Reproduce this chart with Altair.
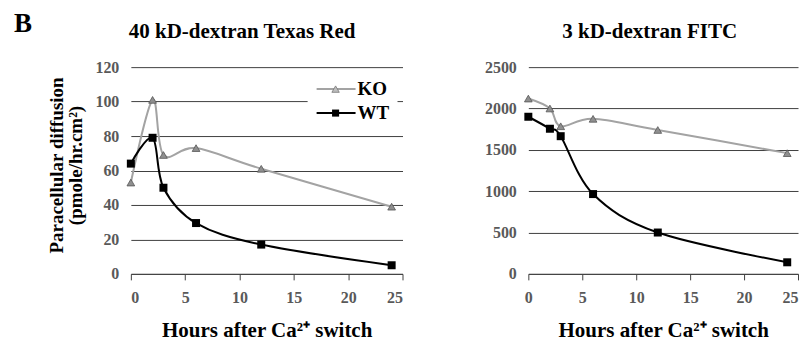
import altair as alt
import pandas as pd

hours = [0, 2, 3, 6, 12, 24]
tr_ko = [53, 101, 69, 73, 61, 39]
tr_wt = [64, 79, 50, 29.5, 17, 5]
fitc_ko = [2120, 2000, 1785, 1875, 1740, 1460]
fitc_wt = [1900, 1755, 1665, 965, 500, 140]
series = ["KO", "WT"]
line_colors = ["#a3a3a3", "#000000"]
x_ticks = [0, 5, 10, 15, 20, 25]
tr_ticks = [0, 20, 40, 60, 80, 100, 120]
fitc_ticks = [0, 500, 1000, 1500, 2000, 2500]

FONT = "Liberation Serif"
H = 207
GAP = 126


def panel(ko, wt, yticks, width, title, title_x, ytitle, with_legend, last_right):
    df = pd.DataFrame({
        "h": hours * 2,
        "v": ko + wt,
        "s": [series[0]] * len(hours) + [series[1]] * len(hours),
    })
    xaxis = dict(values=x_ticks, grid=False, domainColor="#404040",
                 tickColor="#404040", tickSize=6, labelPadding=10,
                 labelFont=FONT, labelFontSize=16, labelFontWeight="bold",
                 labelColor="#595959", titleFont=FONT, titleFontSize=21,
                 titleFontWeight="bold", titleColor="#000000", titlePadding=14)
    if last_right:
        xaxis["labelAlign"] = {"condition": {"test": "datum.value == 25", "value": "right"},
                               "value": "center"}
    x = alt.X("h:Q", scale=alt.Scale(domain=[0, 25], nice=False),
              axis=alt.Axis(**xaxis), title="Hours after Ca\u00b2\u207a switch")
    yaxis = dict(values=yticks, format="d", grid=True, gridColor="#3f3f3f", gridWidth=1,
                 domain=False, ticks=False, labelPadding=12, labelFont=FONT,
                 labelFontSize=16, labelFontWeight="bold", labelColor="#595959",
                 titleFont=FONT, titleFontSize=19, titleFontWeight="bold",
                 titleColor="#000000", titlePadding=9, titleLineHeight=19)
    if ytitle:
        yaxis["titleY"] = 98
    y = alt.Y("v:Q", scale=alt.Scale(domain=[yticks[0], yticks[-1]], nice=False),
              axis=alt.Axis(**yaxis), title=ytitle)
    base = alt.Chart(df).encode(x=x, y=y)
    color = alt.Color("s:N", scale=alt.Scale(domain=series, range=line_colors), legend=None)
    lines = base.mark_line(interpolate="cardinal", strokeWidth=2).encode(color=color)
    ko_pts = base.transform_filter(alt.datum.s == "KO").mark_point(
        shape="triangle-up", filled=True, size=60, fill="#8f8f8f",
        stroke="#555555", strokeWidth=0.8, opacity=1)
    wt_pts = base.transform_filter(alt.datum.s == "WT").mark_square(
        size=64, color="#000000", opacity=1)
    one = pd.DataFrame({"a": [0]})
    layers = []
    if with_legend:
        layers.append(alt.Chart(one).mark_rect(color="white").encode(
            x=alt.value(177), x2=alt.value(267), y=alt.value(6), y2=alt.value(58)))
    layers += [lines, ko_pts, wt_pts]
    if with_legend:
        for lab, yy, col in [("KO", 22, line_colors[0]), ("WT", 46, line_colors[1])]:
            layers.append(alt.Chart(one).mark_rule(color=col, strokeWidth=2).encode(
                x=alt.value(186), x2=alt.value(225), y=alt.value(yy)))
            if lab == "KO":
                layers.append(alt.Chart(one).mark_point(
                    shape="triangle-up", filled=True, size=55, fill="#bdbdbd",
                    stroke="#777777", strokeWidth=0.8, opacity=1).encode(
                    x=alt.value(205), y=alt.value(yy)))
            else:
                layers.append(alt.Chart(one).mark_square(size=50, color="#000000", opacity=1).encode(
                    x=alt.value(205), y=alt.value(yy)))
            layers.append(alt.Chart(one).mark_text(
                align="left", baseline="middle", font=FONT, fontSize=19,
                fontWeight="bold", color="#000000").encode(
                x=alt.value(227), y=alt.value(yy), text=alt.value(lab)))
        # panel letter
        layers.append(alt.Chart(one).mark_text(
            align="center", baseline="middle", font=FONT, fontSize=27,
            fontWeight="bold", color="#000000").encode(
            x=alt.value(-108), y=alt.value(-43), text=alt.value("B")))
    # panel title
    layers.append(alt.Chart(one).mark_text(
        align="left", baseline="alphabetic", font=FONT, fontSize=21,
        fontWeight="bold", color="#000000").encode(
        x=alt.value(title_x), y=alt.value(-29), text=alt.value(title)))
    return alt.layer(*layers).properties(width=width, height=H)


left = panel(tr_ko, tr_wt, tr_ticks, 272, "40 kD-dextran Texas Red", -2,
             ["Paracellular diffusion", "(pmole/hr.cm\u00b2)"], True, False)
right = panel(fitc_ko, fitc_wt, fitc_ticks, 270, "3 kD-dextran FITC", 34, None, False, True)

chart = alt.hconcat(left, right, spacing=GAP, bounds="flush").properties(
    padding={"left": 5, "top": 2, "right": 0, "bottom": 0}
).configure_view(stroke=None)

chart.save("out.html", embed_options={"renderer": "svg", "actions": False})
